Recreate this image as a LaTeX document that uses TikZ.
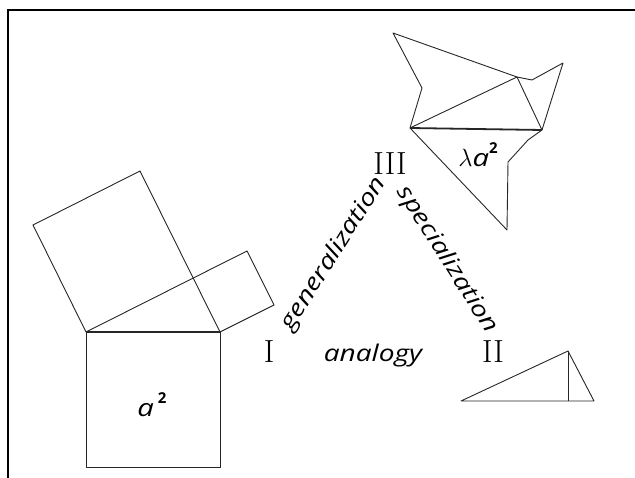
\documentclass[tikz,border=0pt]{standalone}
\usepackage{fontspec}
\newfontfamily\handfont{Open Sans}
\usetikzlibrary{positioning}
\newcommand{\wide}[1]{\scalebox{1.22}[1]{#1}}

\begin{document}
\begin{tikzpicture}[x=1pt, y=-1pt,
    fig/.style={draw=black!85, line width=0.9pt, line join=round},
    base/.style={draw=black!85, line width=1.8pt},
    numeral/.style={font=\fontsize{32}{32}\selectfont},
    relword/.style={font=\handfont\itshape\fontsize{23}{23}\selectfont, inner sep=1pt},
    area/.style={font=\handfont\itshape\fontsize{24}{24}\selectfont}
  ]
  \useasboundingbox (0,0) rectangle (635,478);
  \draw[line width=2pt] (8,478) -- (8,10) -- (635,10);

  % Stage I: squares on the sides
  \coordinate (sqTL) at (86,332);
  \coordinate (sqTR) at (220,332);
  \coordinate (sqBL) at (86,467);
  \coordinate (sqBR) at (220,467);
  \coordinate (bigA) at (33,225);
  \coordinate (bigB) at (140,171);
  \coordinate (smA) at (247,251);
  \coordinate (smB) at (274,305);
  \draw[fig] (sqTL) -- (sqBL) -- (sqBR) -- (sqTR);
  \draw[base] (sqTL) -- (sqTR);
  \draw[fig] (sqTL) -- (bigA) -- (bigB) -- (sqTR);
  \draw[fig] (sqTL) -- (smA) -- (smB) -- (sqTR);
  \node[area] (sqlabel) at (152,405) {\wide{a}\,\raisebox{1.0ex}{\bfseries\upshape\fontsize{15}{15}\selectfont 2}};

  % Stage III: similar figures on the sides
  \coordinate (hA) at (410,128);
  \coordinate (hB) at (542,130);
  \coordinate (hC) at (517,77);
  \coordinate (p1) at (393,33);
  \coordinate (p2) at (422,88);
  \coordinate (p3) at (532,80);
  \coordinate (p4) at (563,63);
  \coordinate (p5) at (507,230);
  \coordinate (p6) at (508,162);
  \coordinate (p7) at (528,140);
  \draw[fig] (hA) -- (p2) -- (p1) -- (hC) -- (p3) -- (p4) -- (hB);
  \draw[fig] (hA) -- (hC) -- (hB);
  \draw[fig] (hA) -- (p5) -- (p6) -- (p7) -- (hB);
  \draw[base] (hA) -- (hB);
  \node[area] (simlabel) at (478,155) {$\lambda$\wide{a}\raisebox{1.0ex}{\bfseries\upshape\fontsize{15}{15}\selectfont 2}};

  % Stage II: the altitude
  \coordinate (tL) at (461,401);
  \coordinate (tT) at (568,351);
  \coordinate (tR) at (594,401);
  \coordinate (tF) at (568,401);
  \draw[fig] (tL) -- (tT) -- (tR) -- cycle;
  \draw[fig] (tT) -- (tF);

  % Steps and the ways between them
  \node[numeral] (one) at (269,352) {I};
  \node[numeral] (three) at (390,164) {III};
  \node[numeral] (two) at (493,352) {II};
  \node[relword] (analogy) at (373,356) {\wide{analogy}};
  \node[relword, rotate=57.7] (gen) at (334,254) {\wide{generalization}};
  \node[relword, rotate=-57.6] (spec) at (447,260) {\wide{specialization}};
\end{tikzpicture}
\end{document}
